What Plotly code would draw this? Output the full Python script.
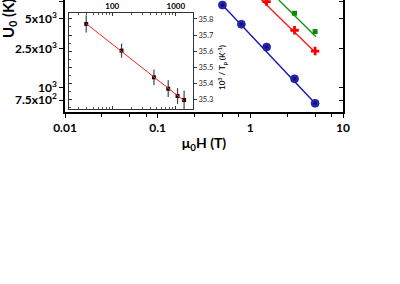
import numpy as np
import plotly.graph_objects as go

# ---- main panel data (U0 vs mu0H) ----
H_blue = [0.5, 0.8, 1.5, 3, 5]
U_blue = [6930, 4420, 2590, 1230, 693]
H_red = [1.5, 3, 5]
U_red = [7500, 3840, 2360]
H_green = [3, 5]
U_green = [5720, 3720]

# fit lines (end points)
blue_fit_H = [0.5, 5.2]
blue_fit_U = [6930, 667]
red_fit_H = [1.32, 5.1]
red_fit_U = [7800, 2250]
green_fit_H = [2.03, 5.1]
green_fit_U = [7800, 3300]

x_ticks = [0.01, 0.1, 1, 10]
x_ticktext = ["0.01", "0.1", "1", "10"]
y_ticks = [750, 1000, 2500, 5000, 7500]
y_ticktext = ["7.5x10<sup>2</sup>", "10<sup>3</sup>", "2.5x10<sup>3</sup>",
              "5x10<sup>3</sup>", "7.5x10<sup>3</sup>"]

# ---- inset data ----
x_in = [39, 140, 453, 759, 1064, 1349]
y_in = [35.769, 35.603, 35.437, 35.366, 35.321, 35.296]
err_in = [0.054, 0.044, 0.049, 0.052, 0.049, 0.059]
in_top_ticks = [100, 1000]
in_right_ticks = [35.3, 35.4, 35.5, 35.6, 35.7, 35.8]

FONT = "Lato"
fig = go.Figure()

# main traces
fig.add_trace(go.Scatter(x=blue_fit_H, y=blue_fit_U, mode="lines",
                         line=dict(color="#1010b0", width=1.3), xaxis="x", yaxis="y"))
fig.add_trace(go.Scatter(x=red_fit_H, y=red_fit_U, mode="lines",
                         line=dict(color="#ff1010", width=1.3), xaxis="x", yaxis="y"))
fig.add_trace(go.Scatter(x=green_fit_H, y=green_fit_U, mode="lines",
                         line=dict(color="#109010", width=1.3), xaxis="x", yaxis="y"))
fig.add_trace(go.Scatter(x=H_blue, y=U_blue, mode="markers",
                         marker=dict(symbol="circle", size=8, color="#3a3ad0",
                                     gradient=dict(type="radial", color="#000078"),
                                     line=dict(color="#000060", width=0.6)),
                         xaxis="x", yaxis="y"))
fig.add_trace(go.Scatter(x=H_red, y=U_red, mode="markers",
                         marker=dict(symbol="cross", size=7, color="#ff0000",
                                     line=dict(width=0)),
                         xaxis="x", yaxis="y"))
fig.add_trace(go.Scatter(x=H_green, y=U_green, mode="markers",
                         marker=dict(symbol="square", size=5, color="#0a8a0a",
                                     line=dict(width=0)),
                         xaxis="x", yaxis="y"))
# helper trace for the right-hand mirror axis
fig.add_trace(go.Scatter(x=[1], y=[1000], mode="markers", marker=dict(opacity=0),
                         xaxis="x", yaxis="y4", hoverinfo="skip"))

# inset traces
lx = np.log10(np.array(x_in))
p = np.polyfit(lx, np.array(y_in), 1)
fit_x = [x_in[0], x_in[-1]]
fit_y = list(np.polyval(p, np.log10(fit_x)))
fig.add_trace(go.Scatter(x=x_in, y=y_in, mode="markers",
                         error_y=dict(type="data", array=err_in, color="#444444",
                                      thickness=1.2, width=0),
                         marker=dict(symbol="square", size=4, color="#111111"),
                         xaxis="x2", yaxis="y2"))
fig.add_trace(go.Scatter(x=fit_x, y=fit_y, mode="lines",
                         line=dict(color="#ff2020", width=1), xaxis="x2", yaxis="y2"))
fig.add_trace(go.Scatter(x=[100], y=[35.5], mode="markers", marker=dict(opacity=0),
                         xaxis="x3", yaxis="y3", hoverinfo="skip"))

in_xdom = [0.0144, 0.4604]
in_ydom = [0.0268, 0.884]
in_xrange = [1.32, 3.27]
in_yrange = [35.240, 35.837]

fig.update_layout(
    width=400, height=284,
    margin=dict(l=65, r=57, t=0, b=172),
    paper_bgcolor="white", plot_bgcolor="white",
    showlegend=False,
    font=dict(family=FONT, color="black"),
    xaxis=dict(type="log", range=[-2, 1], domain=[0, 1], anchor="y",
               tickvals=x_ticks, ticktext=x_ticktext,
               ticks="outside", ticklen=4, tickwidth=1.3, tickcolor="black",
               minor=dict(tickvals=[0.025, 0.05, 0.075, 0.25, 0.5, 0.75, 2.5, 5, 7.5],
                          ticks="outside", ticklen=3, tickcolor="black"),
               showline=True, linewidth=1.6, linecolor="black", mirror=False,
               showgrid=False, zeroline=False,
               tickfont=dict(size=12, family=FONT, weight="bold"),
               title=dict(text="μ<sub>0</sub>H (T)", standoff=4,
                          font=dict(size=14, family=FONT, weight="bold"))),
    yaxis=dict(type="log", range=[2.753, 3.892], domain=[0, 1], anchor="x",
               tickvals=y_ticks, ticktext=y_ticktext,
               ticks="outside", ticklen=4, tickwidth=1.3, tickcolor="black",
               showline=True, linewidth=1.6, linecolor="black",
               showgrid=False, zeroline=False,
               tickfont=dict(size=12, family=FONT, weight="bold")),
    yaxis4=dict(type="log", range=[2.753, 3.892], overlaying="y", side="right",
                anchor="x", tickvals=y_ticks, showticklabels=False,
                ticks="inside", ticklen=4, tickwidth=1.3, tickcolor="black",
                showline=True, linewidth=1.6, linecolor="black",
                showgrid=False, zeroline=False),
    xaxis2=dict(type="log", range=in_xrange, domain=in_xdom, anchor="y2",
                tickvals=in_top_ticks, showticklabels=False,
                ticks="inside", ticklen=3, tickcolor="#333",
                minor=dict(ticks="inside", ticklen=2, tickcolor="#555", dtick="D1"),
                showline=True, linewidth=1, linecolor="#333",
                showgrid=False, zeroline=False),
    xaxis3=dict(type="log", range=in_xrange, domain=in_xdom, anchor="y2",
                overlaying="x2", side="top",
                tickvals=in_top_ticks, ticktext=["100", "1000"],
                ticks="inside", ticklen=3, tickcolor="#333",
                minor=dict(ticks="inside", ticklen=2, tickcolor="#555", dtick="D1"),
                showline=True, linewidth=1, linecolor="#333",
                tickfont=dict(size=8, family=FONT, weight="bold"),
                showgrid=False, zeroline=False),
    yaxis2=dict(range=in_yrange, domain=in_ydom, anchor="x2",
                tickvals=in_right_ticks, showticklabels=False,
                ticks="inside", ticklen=3, tickcolor="#333",
                minor=dict(dtick=0.05, ticks="inside", ticklen=2, tickcolor="#555"),
                showline=True, linewidth=1, linecolor="#333",
                showgrid=False, zeroline=False),
    yaxis3=dict(range=in_yrange, domain=in_ydom, anchor="x2",
                overlaying="y2", side="right",
                tickvals=in_right_ticks, ticktext=[f"{v:.1f}" for v in in_right_ticks],
                ticks="outside", ticklen=3, tickcolor="#333",
                showline=True, linewidth=1, linecolor="#333",
                tickfont=dict(size=7.5, family=FONT, color="#222"),
                showgrid=False, zeroline=False),
)

fig.add_annotation(text="U<sub>0</sub> (K)", textangle=-90, showarrow=False,
                   xref="paper", yref="paper", x=(9 - 65) / 278, y=(112 - 19) / 112,
                   xanchor="center", yanchor="middle",
                   font=dict(size=15, family=FONT, weight="bold"))
fig.add_annotation(text="10<sup>3</sup> / T<sub>p</sub> (K<sup>-1</sup>)", textangle=-90,
                   showarrow=False, xref="paper", yref="paper",
                   x=(222 - 65) / 278, y=(112 - 68) / 112,
                   xanchor="center", yanchor="middle",
                   font=dict(size=8, family=FONT, weight="bold", color="#222"))

fig.write_html("out.html", config={"displayModeBar": False},
               post_script="document.body.style.margin='0';document.body.style.padding='0';")
